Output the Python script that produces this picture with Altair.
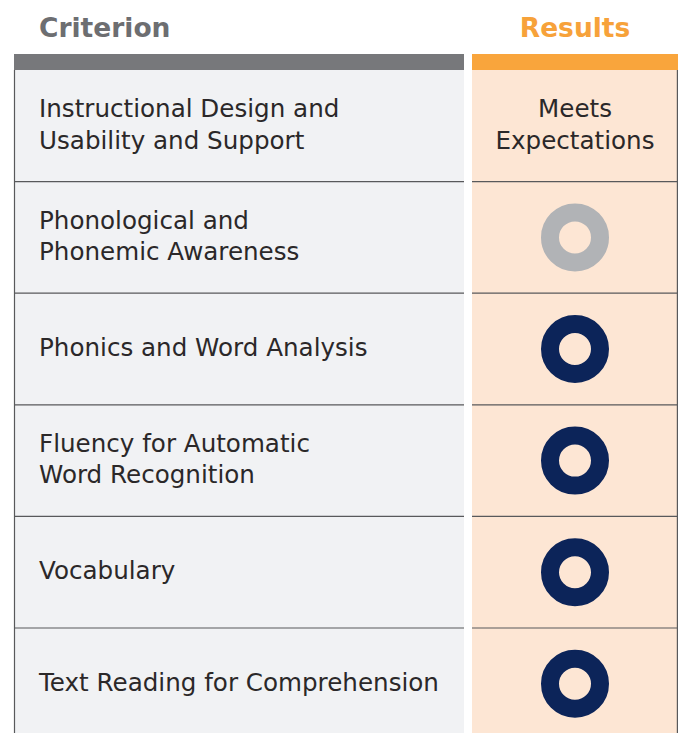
import altair as alt
import pandas as pd

# ---- data ----
criteria = [
    "Instructional Design and\nUsability and Support",
    "Phonological and\nPhonemic Awareness",
    "Phonics and Word Analysis",
    "Fluency for Automatic\nWord Recognition",
    "Vocabulary",
    "Text Reading for Comprehension",
]
result_text = ["Meets\nExpectations", "", "", "", "", ""]
rating = [None, "Partially Meets", "Meets", "Meets", "Meets", "Meets"]
headers = ["Criterion", "Results"]

# ---- layout (chart pixels / row units) ----
W, H = 670, 725
ROW_TOP = 62.0
ROW_H = 111.6
LH = 31.5
Y0 = -ROW_TOP / ROW_H
Y1 = (H - ROW_TOP) / ROW_H
HDR_BAR = -16 / ROW_H
TITLE_Y = -33 / ROW_H
COL_X0 = [6, 464]
COL_X1 = [456, 670]
TEXT_X = 31
RES_X = 567
FONT = "DejaVu Sans"

n = len(criteria)
rows = pd.DataFrame({
    "row": list(range(n)),
    "mid": [i + 0.5 for i in range(n)],
    "criterion": criteria,
    "result": result_text,
    "rating": rating,
})
cols = pd.DataFrame({
    "col": headers,
    "x0": COL_X0,
    "x1": COL_X1,
    "bar_top": [HDR_BAR] * 2,
    "bar_bot": [0.0] * 2,
    "top": [0.0] * 2,
    "bottom": [Y1] * 2,
    "title_x": [TEXT_X, RES_X],
    "title_y": [TITLE_Y] * 2,
})
seps = pd.DataFrame(
    [{"col": c, "x0": x0, "x1": x1, "y": float(r)}
     for c, x0, x1 in zip(headers, COL_X0, COL_X1) for r in range(1, n)]
)
borders = pd.DataFrame({"x": [COL_X0[0] + 0.5, COL_X1[1] - 0.6], "y0": [0.0, 0.0], "y1": [Y1, Y1]})

xs = alt.Scale(domain=[0, W], nice=False, zero=False)
ys = alt.Scale(domain=[Y0, Y1], nice=False, zero=False, reverse=True)
X = lambda f: alt.X(f, type="quantitative", scale=xs, axis=None)
Y = lambda f: alt.Y(f, type="quantitative", scale=ys, axis=None)

bg = alt.Chart(cols).mark_rect(clip=True).encode(
    x=X("x0"), x2="x1", y=Y("top"), y2="bottom",
    color=alt.Color("col:N", scale=alt.Scale(domain=headers, range=["#f1f2f4", "#fde6d4"]), legend=None),
)
bars = alt.Chart(cols).mark_rect().encode(
    x=X("x0"), x2="x1", y=Y("bar_top"), y2="bar_bot",
    color=alt.Color("col:N", scale=alt.Scale(domain=headers, range=["#77787b", "#f9a53c"]), legend=None),
)
title_l = alt.Chart(cols).transform_filter("datum.col == 'Criterion'").mark_text(
    font=FONT, fontSize=26.5, fontWeight="bold", baseline="alphabetic", align="left", color="#6d6e71"
).encode(x=X("title_x"), y=Y("title_y"), text="col:N")
title_r = alt.Chart(cols).transform_filter("datum.col == 'Results'").mark_text(
    font=FONT, fontSize=26.5, fontWeight="bold", baseline="alphabetic", align="center", color="#f7a23a"
).encode(x=X("title_x"), y=Y("title_y"), text="col:N")
sep_rules = alt.Chart(seps).mark_rule(color="#58595b", strokeWidth=1.2).encode(
    x=X("x0"), x2="x1", y=Y("y"),
)
border_rules = alt.Chart(borders).mark_rule(color="#58595b", strokeWidth=1.2, clip=True).encode(
    x=X("x"), y=Y("y0"), y2="y1",
)
shift = f"(length(split(datum.{{f}}, '\\n')) - 1) * {LH / 2 / ROW_H}"
crit_text = alt.Chart(rows).transform_calculate(
    ty="datum.mid - " + shift.format(f="criterion")
).mark_text(
    font=FONT, fontSize=24.6, align="left", baseline="middle",
    lineBreak="\n", lineHeight=LH, color="#2b2829",
).encode(x=alt.value(TEXT_X), y=Y("ty"), text="criterion:N")
res_text = alt.Chart(rows).transform_filter("datum.result != ''").transform_calculate(
    ty="datum.mid - " + shift.format(f="result")
).mark_text(
    font=FONT, fontSize=24.6, align="center", baseline="middle",
    lineBreak="\n", lineHeight=LH, color="#2b2829",
).encode(x=alt.value(RES_X), y=Y("ty"), text="result:N")
donuts = alt.Chart(rows).transform_filter("datum.rating != null").mark_point(
    shape="circle", filled=False, strokeWidth=18, size=2500, opacity=1,
).encode(
    x=alt.value(RES_X), y=Y("mid"), detail="row:O",
    stroke=alt.Stroke("rating:N", scale=alt.Scale(domain=["Meets", "Partially Meets"], range=["#0c2459", "#b1b3b6"]), legend=None),
)

chart = alt.layer(bg, bars, sep_rules, border_rules, title_l, title_r, crit_text, res_text, donuts).resolve_scale(
    color="independent"
).properties(
    width=W, height=H, padding=0, autosize=alt.AutoSizeParams(type="none"),
).configure_view(stroke=None)

chart.save("out.html", embed_options={"renderer": "svg", "actions": False})
